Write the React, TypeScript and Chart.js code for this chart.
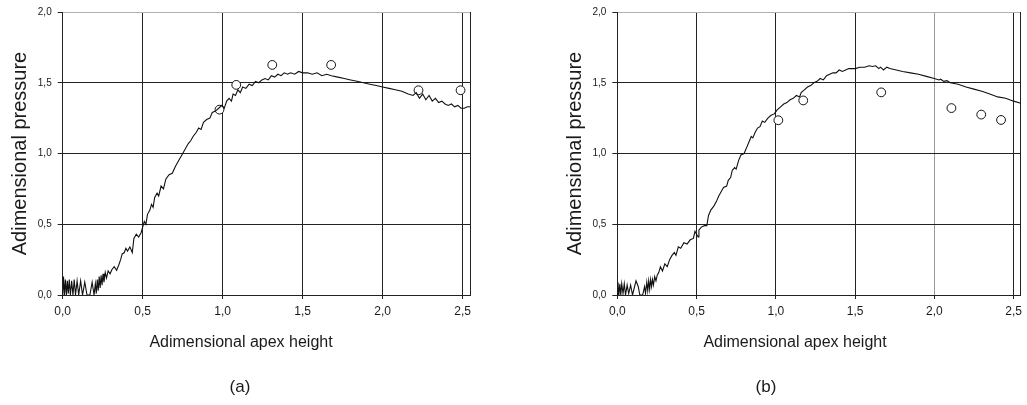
import React, { useEffect, useRef } from "react";
import { Chart, registerables } from "chart.js";

Chart.register(...registerables);

// ---- axis ticks / labels ----
const xTicks = [0, 0.5, 1, 1.5, 2, 2.5];
const yTicks = [0, 0.5, 1, 1.5, 2];
const xMax = 2.546;
const yMax = 2;
const xTitle = "Adimensional apex height";
const yTitle = "Adimensional pressure";
const panelLabels = ["(a)", "(b)"];

// ---- panel (a): computed curve ----
const curveAX = [
  0.0, 0.005, 0.011, 0.017, 0.023, 0.029, 0.035, 0.041, 0.048, 0.056, 0.064, 0.072, 0.08, 0.09, 0.1, 0.112,
  0.124, 0.138, 0.152, 0.17, 0.184, 0.196, 0.204, 0.21, 0.216, 0.222, 0.228, 0.234, 0.24, 0.246, 0.252, 0.258,
  0.266, 0.274, 0.284, 0.296, 0.308, 0.322, 0.337, 0.35, 0.362, 0.372, 0.385, 0.395, 0.405, 0.42, 0.435, 0.445,
  0.46, 0.475, 0.49, 0.5, 0.51, 0.52, 0.53, 0.545, 0.555, 0.565, 0.575, 0.59, 0.6, 0.615, 0.63, 0.645, 0.665,
  0.685, 0.705, 0.725, 0.745, 0.765, 0.785, 0.8, 0.815, 0.835, 0.85, 0.865, 0.88, 0.9, 0.92, 0.935, 0.955,
  0.975, 0.995, 1.01, 1.025, 1.04, 1.055, 1.065, 1.08, 1.095, 1.11, 1.125, 1.145, 1.165, 1.185, 1.205, 1.225,
  1.245, 1.265, 1.285, 1.305, 1.325, 1.345, 1.365, 1.385, 1.405, 1.425, 1.45, 1.475, 1.5, 1.53, 1.56, 1.59,
  1.62, 1.65, 1.68, 1.72, 1.76, 1.8, 1.84, 1.88, 1.92, 1.96, 2.0, 2.04, 2.08, 2.12, 2.16, 2.19, 2.21, 2.23,
  2.25, 2.27, 2.29, 2.31, 2.33, 2.35, 2.37, 2.39, 2.41, 2.43, 2.45, 2.47, 2.49, 2.51, 2.53, 2.546,
];
const curveAY = [
  0.0, 0.13, 0.0, 0.11, 0.0, 0.1, 0.01, 0.11, 0.0, 0.1, 0.0, 0.11, 0.0, 0.1, 0.0, 0.1,
  0.0, 0.09, 0.0, 0.0, 0.09, 0.0, 0.08, 0.01, 0.11, 0.03, 0.13, 0.05, 0.14, 0.07, 0.15, 0.09,
  0.16, 0.12, 0.17, 0.15, 0.18, 0.2, 0.175, 0.21, 0.25, 0.29, 0.3, 0.33, 0.31, 0.34, 0.3, 0.4,
  0.43, 0.41, 0.44, 0.48, 0.52, 0.5, 0.57, 0.6, 0.64, 0.62, 0.69, 0.72, 0.7, 0.77, 0.75, 0.82, 0.85,
  0.86, 0.91, 0.95, 0.99, 1.03, 1.07, 1.09, 1.12, 1.15, 1.18, 1.17, 1.22, 1.24, 1.25, 1.29, 1.3,
  1.32, 1.34, 1.32, 1.37, 1.39, 1.37, 1.42, 1.41, 1.45, 1.43, 1.47, 1.46, 1.49, 1.48, 1.51, 1.5,
  1.52, 1.53, 1.52, 1.55, 1.54, 1.56, 1.55, 1.57, 1.56, 1.57, 1.56, 1.58, 1.57, 1.57, 1.56, 1.57,
  1.55, 1.56, 1.55, 1.54, 1.53, 1.52, 1.51, 1.5, 1.49, 1.48, 1.47, 1.46, 1.45, 1.44, 1.42, 1.41, 1.43, 1.39,
  1.42, 1.38, 1.41, 1.37, 1.39, 1.36, 1.37, 1.35, 1.34, 1.35, 1.33, 1.34, 1.32, 1.32, 1.33, 1.33,
];
// ---- panel (a): measured points ----
const markAX = [0.98, 1.085, 1.31, 1.678, 2.224, 2.487];
const markAY = [1.31, 1.485, 1.626, 1.626, 1.447, 1.447];

// ---- panel (b): computed curve ----
const curveBX = [
  0.0, 0.004, 0.01, 0.016, 0.022, 0.028, 0.036, 0.044, 0.052, 0.062, 0.072, 0.084, 0.096, 0.118, 0.132, 0.142,
  0.16, 0.172, 0.178, 0.186, 0.192, 0.198, 0.204, 0.21, 0.216, 0.222, 0.228, 0.236, 0.244, 0.252, 0.262, 0.272,
  0.285, 0.3, 0.315, 0.33, 0.345, 0.36, 0.37, 0.385, 0.4, 0.42, 0.44, 0.46, 0.48, 0.49, 0.5, 0.51, 0.515, 0.53,
  0.55, 0.565, 0.575, 0.59, 0.61, 0.625, 0.64, 0.655, 0.67, 0.69, 0.7, 0.715, 0.725, 0.74, 0.75, 0.765, 0.78,
  0.8, 0.815, 0.83, 0.845, 0.855, 0.87, 0.885, 0.9, 0.915, 0.93, 0.95, 0.97, 0.99, 1.01, 1.03, 1.05, 1.07,
  1.09, 1.11, 1.13, 1.15, 1.16, 1.18, 1.2, 1.22, 1.24, 1.26, 1.28, 1.3, 1.32, 1.34, 1.36, 1.38, 1.4, 1.42,
  1.44, 1.46, 1.5, 1.53, 1.56, 1.59, 1.61, 1.63, 1.65, 1.66, 1.68, 1.7, 1.72, 1.76, 1.8, 1.85, 1.9, 1.95,
  2.0, 2.03, 2.04, 2.06, 2.08, 2.1, 2.15, 2.2, 2.25, 2.3, 2.35, 2.4, 2.45, 2.5, 2.546,
];
const curveBY = [
  0.0, 0.09, 0.0, 0.08, 0.0, 0.08, 0.01, 0.08, 0.0, 0.07, 0.01, 0.07, 0.0, 0.1, 0.06, 0.0,
  0.0, 0.06, 0.01, 0.09, 0.03, 0.1, 0.04, 0.11, 0.06, 0.11, 0.07, 0.13, 0.1, 0.14, 0.16, 0.2,
  0.17, 0.22, 0.2, 0.25, 0.28, 0.3, 0.28, 0.34, 0.33, 0.37, 0.36, 0.39, 0.4, 0.45, 0.43, 0.41, 0.46, 0.48,
  0.49, 0.49, 0.56, 0.6, 0.63, 0.66, 0.7, 0.73, 0.76, 0.77, 0.81, 0.83, 0.88, 0.9, 0.89, 0.95, 0.99,
  1.0, 1.04, 1.08, 1.12, 1.11, 1.15, 1.18, 1.19, 1.23, 1.22, 1.25, 1.27, 1.28, 1.31, 1.33, 1.35, 1.36,
  1.38, 1.39, 1.41, 1.4, 1.43, 1.45, 1.47, 1.48, 1.5, 1.51, 1.53, 1.52, 1.55, 1.56, 1.57, 1.57, 1.59, 1.58,
  1.59, 1.6, 1.6, 1.61, 1.61, 1.62, 1.615, 1.62, 1.6, 1.61, 1.59, 1.61, 1.6, 1.59, 1.58, 1.57, 1.56, 1.545,
  1.53, 1.52, 1.525, 1.51, 1.515, 1.5, 1.49, 1.47, 1.455, 1.44, 1.42, 1.4, 1.39, 1.37, 1.355,
];
// ---- panel (b): measured points ----
const markBX = [1.016, 1.173, 1.665, 2.108, 2.296, 2.421];
const markBY = [1.235, 1.375, 1.432, 1.321, 1.275, 1.237];

const FONT = "'Liberation Sans', Arial, Helvetica, sans-serif";
const TEXT = "#1a1a1a";
const LINE = "#222";

const fmt = (v: number) => Number(v).toFixed(1).replace(".", ",");
const zip = (xs: number[], ys: number[]) => xs.map((x, i) => ({ x, y: ys[i] }));

type PanelProps = {
  left: number;
  width: number;
  yAxisWidth: number;
  rightWidth: number;
  yTitlePad: number;
  curveX: number[];
  curveY: number[];
  markX: number[];
  markY: number[];
  lightX2: boolean;
};

function Panel(p: PanelProps) {
  const ref = useRef<HTMLCanvasElement>(null);
  useEffect(() => {
    const chart = new Chart(ref.current as HTMLCanvasElement, {
      type: "scatter",
      data: {
        datasets: [
          {
            data: zip(p.curveX, p.curveY),
            showLine: true,
            borderColor: "#111",
            borderWidth: 1.1,
            pointRadius: 0,
            order: 0,
          },
          {
            data: zip(p.markX, p.markY),
            showLine: false,
            pointRadius: 4.4,
            pointBackgroundColor: "#fff",
            pointBorderColor: "#111",
            pointBorderWidth: 1,
            order: 1,
          },
        ],
      },
      options: {
        animation: false,
        responsive: false,
        layout: { padding: { top: 10, left: 0, right: 0, bottom: 0 } },
        plugins: {
          legend: { display: false },
          tooltip: { enabled: false },
          subtitle: {
            display: true,
            position: "bottom",
            text: xTitle,
            color: TEXT,
            font: { family: FONT, size: 16, weight: "normal" },
            padding: { top: 14.4, bottom: 52.4 },
          },
        },
        scales: {
          x: {
            type: "linear",
            position: "bottom",
            min: 0,
            max: xMax,
            afterBuildTicks: (s: any) => {
              s.ticks = xTicks.map((v) => ({ value: v }));
            },
            afterFit: (s: any) => {
              s.height = 24;
            },
            ticks: {
              callback: (v: any) => fmt(v),
              color: TEXT,
              font: { family: FONT, size: 12 },
              padding: 5,
              maxRotation: 0,
              autoSkip: false,
            },
            grid: {
              color: (ctx: any) =>
                p.lightX2 && ctx.tick && ctx.tick.value === 2 ? "#9a9a9a" : LINE,
              lineWidth: 1,
              tickLength: 4,
              tickColor: LINE,
            },
            border: { color: LINE, width: 1 },
          },
          y: {
            type: "linear",
            position: "left",
            min: 0,
            max: yMax,
            afterBuildTicks: (s: any) => {
              s.ticks = yTicks.map((v) => ({ value: v }));
            },
            afterFit: (s: any) => {
              s.width = p.yAxisWidth;
            },
            ticks: {
              callback: (v: any) => fmt(v),
              color: TEXT,
              font: { family: FONT, size: 10 },
              padding: 6,
            },
            grid: {
              color: (ctx: any) => (ctx.tick && ctx.tick.value === 2 ? "#b0b0b0" : LINE),
              lineWidth: 1,
              tickLength: 5,
              tickColor: LINE,
            },
            border: { color: LINE, width: 1 },
            title: {
              display: true,
              text: yTitle,
              color: TEXT,
              font: { family: FONT, size: 20, weight: "normal" },
              padding: { top: p.yTitlePad, bottom: 0 },
            },
          },
          y2: {
            type: "linear",
            position: "right",
            min: 0,
            max: yMax,
            grid: { display: false },
            ticks: { display: false },
            border: { display: true, color: LINE, width: 1 },
            afterFit: (s: any) => {
              s.width = p.rightWidth;
            },
          },
        },
      } as any,
    });
    return () => chart.destroy();
  }, []);
  return (
    <canvas
      ref={ref}
      width={p.width}
      height={405}
      style={{ position: "absolute", left: p.left, top: 0, width: p.width, height: 405 }}
    />
  );
}

const labelStyle = (cx: number): React.CSSProperties => ({
  position: "absolute",
  left: cx - 40,
  width: 80,
  top: 377,
  height: 20,
  lineHeight: "20px",
  textAlign: "center",
  fontFamily: FONT,
  fontSize: 17,
  color: TEXT,
});

export default function App() {
  return (
    <div
      style={{
        position: "fixed",
        left: 0,
        top: 0,
        width: 1027,
        height: 405,
        background: "#fff",
        overflow: "hidden",
      }}
    >
      <Panel
        left={0}
        width={482}
        yAxisWidth={62.7}
        rightWidth={12}
        yTitlePad={8}
        curveX={curveAX}
        curveY={curveAY}
        markX={markAX}
        markY={markAY}
        lightX2={false}
      />
      <Panel
        left={563}
        width={464}
        yAxisWidth={54.3}
        rightWidth={3.7}
        yTitlePad={0}
        curveX={curveBX}
        curveY={curveBY}
        markX={markBX}
        markY={markBY}
        lightX2={true}
      />
      <div style={labelStyle(240)}>{panelLabels[0]}</div>
      <div style={labelStyle(766)}>{panelLabels[1]}</div>
    </div>
  );
}
